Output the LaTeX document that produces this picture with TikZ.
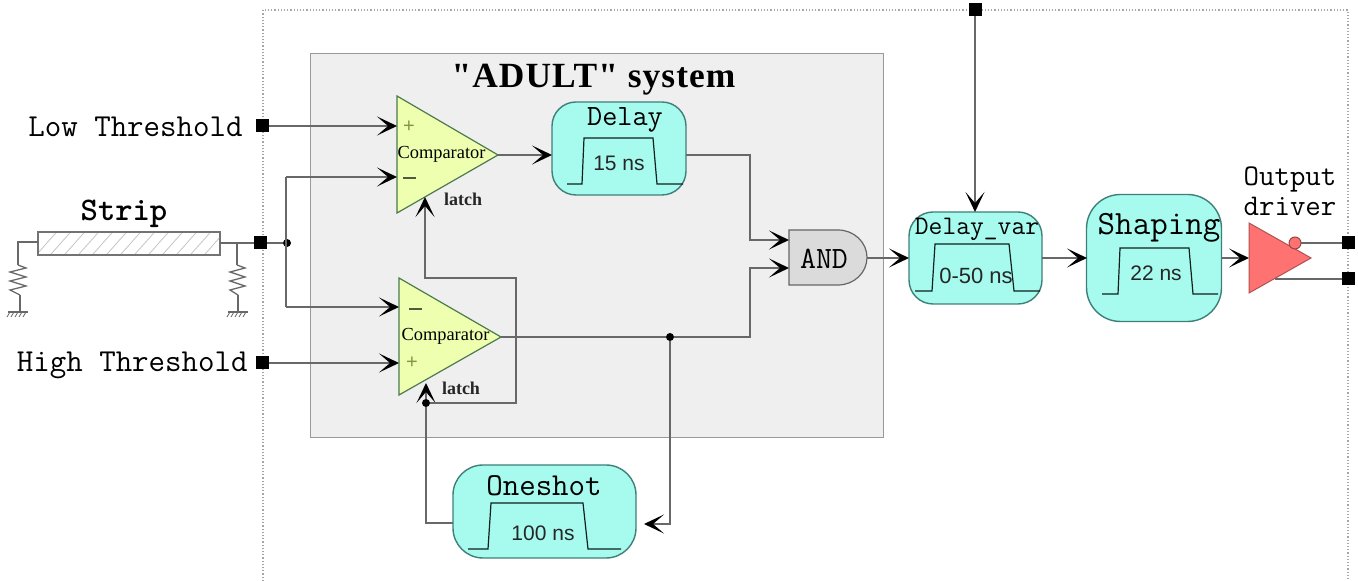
\documentclass[tikz,border=0pt]{standalone}
\usepackage{fontspec}
\setmainfont{Liberation Serif}
\setsansfont{Liberation Sans}
\newfontfamily\titlefont[LetterSpace=3]{Liberation Serif}
\usetikzlibrary{arrows.meta}
\definecolor{wire}{HTML}{686868}
\definecolor{cyanfill}{HTML}{A6FBEE}
\definecolor{cyanedge}{HTML}{3F7F78}
\definecolor{yellowfill}{HTML}{EEFFB0}
\definecolor{panel}{HTML}{EFEFEF}
\definecolor{redfill}{HTML}{FF7272}
\newcommand{\fsz}[1]{\fontsize{#1}{#1}\selectfont}
\tikzset{
  wireline/.style={draw=wire,line width=0.7pt},
  arrowline/.style={wireline,-{Stealth[length=10pt,width=9.5pt,inset=5.5pt,color=black]}},
  pin/.style={fill=black,minimum size=6.5pt,inner sep=0,outer sep=0},
  junction/.style={circle,fill=black,minimum size=4pt,inner sep=0,outer sep=0},
  blockbox/.style={draw=cyanedge,fill=cyanfill,line width=0.7pt,inner sep=0,outer sep=0},
  pulse/.style={draw=black!75!cyanedge,line width=0.6pt},
  monolabel/.style={font=\ttfamily,inner sep=0,text=black},
  pulselabel/.style={font=\sffamily\fsz{10.5},inner sep=0,text=black!85},
  complabel/.style={font=\rmfamily\fsz{9.2},inner sep=0},
  latchlabel/.style={font=\rmfamily\bfseries\fsz{9},inner sep=0,text=black!85},
  comparator/.style={draw=black!55!green!40!gray,fill=yellowfill,line width=0.6pt},
}
\begin{document}
\begin{tikzpicture}[x=0.5pt,y=-0.5pt]
\useasboundingbox (0,0) rectangle (1358,581);
% frame and panel
\coordinate (fbl) at (263,581);
\coordinate (ftl) at (263,10);
\coordinate (ftr) at (1348,10);
\coordinate (fbr) at (1348,581);
\draw[draw=gray!70,line width=0.6pt,densely dotted] (fbl) -- (ftl) -- (ftr) -- (fbr);
\node[fill=panel,draw=gray!80,line width=0.5pt,minimum width=286.5pt,minimum height=192pt,inner sep=0,outer sep=0] (panelbox) at (597,246) {};
\node[font=\titlefont\bfseries\fsz{17.7},inner sep=0] (title) at (593.5,80) {"ADULT" system};

% labels
\node[monolabel,font=\ttfamily\fsz{16},anchor=east] (lowlab) at (243,127) {Low Threshold};
\node[monolabel,font=\ttfamily\fsz{16},anchor=east] (highlab) at (248,365) {High Threshold};
\node[monolabel,font=\ttfamily\bfseries\fsz{16.5}] (striplab) at (124,214) {Strip};

% strip
\begin{scope}
\clip (38,232) rectangle (220,255);
\foreach \i in {0,14,...,210} \draw[gray!45,line width=0.4pt] (30+\i,262) -- (62+\i,226);
\end{scope}
\node[draw=gray!90!black,line width=0.8pt,minimum width=91pt,minimum height=11.5pt,inner sep=0,outer sep=0] (strip) at (129,243.5) {};
\coordinate (leftres) at (18,242);
\coordinate (rightres) at (237,243);
\node[pin] (pinin) at (260,243) {};
\node[junction] (split) at (287,243) {};
\coordinate (splittop) at (286,177);
\coordinate (splitbot) at (286,307);
\draw[wireline] (38,242) -- (leftres) -- (18,265);
\draw[wireline] (20,295) -- (20,312);
\draw[wireline,line width=0.65pt] (18,265) -- (26,268) -- (10,272) -- (26,277) -- (10,281) -- (26,286) -- (10,290) -- (20,295);
\draw[wireline,line width=0.7pt] (8,312) -- (28,312);
\foreach \x in {10,14,...,26} \draw[wire,line width=0.4pt] (\x,312) -- (\x-3,317);
\draw[wireline] (220,243) -- (pinin);
\draw[wireline] (rightres) -- (237,265);
\draw[wireline] (238,295) -- (238,312);
\draw[wireline,line width=0.65pt] (237,265) -- (245,268) -- (230,272) -- (245,277) -- (230,281) -- (245,286) -- (230,290) -- (238,295);
\draw[wireline,line width=0.7pt] (228,312) -- (248,312);
\foreach \x in {230,234,...,246} \draw[wire,line width=0.4pt] (\x,312) -- (\x-3,317);
\draw[wireline] (pinin) -- (split);
\draw[wireline] (splittop) -- (splitbot);

% comparators
\draw[comparator] (397,96) -- (498,155) -- (397,213) -- cycle;
\draw[comparator] (399,278) -- (501,337) -- (399,395) -- cycle;
\node[complabel] (c1lab) at (441.5,154) {Comparator};
\node[complabel] (c2lab) at (445.5,336) {Comparator};
\node[latchlabel] (l1lab) at (463,199) {latch};
\node[latchlabel] (l2lab) at (461,388) {latch};
\node[inner sep=0,text=olive!70!green!60!gray,font=\sffamily\fsz{10}] (p1) at (409,127) {+};
\node[inner sep=0,text=olive!70!green!60!gray,font=\sffamily\fsz{10}] (p2) at (412,363) {+};
\node[inner sep=0,fill=black!65!yellowfill,minimum width=6.5pt,minimum height=0.9pt] (m1) at (409,178) {};
\node[inner sep=0,fill=black!65!yellowfill,minimum width=6.5pt,minimum height=0.9pt] (m2) at (415,309) {};

% inputs
\node[pin] (pinlow) at (262,126) {};
\node[pin] (pinhigh) at (262,363) {};
\coordinate (c1plus) at (397,126);
\coordinate (c1minus) at (397,177);
\coordinate (c2minus) at (399,307);
\coordinate (c2plus) at (399,363);
\coordinate (c1out) at (498,155);
\coordinate (c2out) at (501,337);
\coordinate (c1latch) at (425,197);
\coordinate (c2latch) at (426,383);
\draw[arrowline] (pinlow) -- (c1plus);
\draw[arrowline] (splittop) -- (c1minus);
\draw[arrowline] (splitbot) -- (c2minus);
\draw[arrowline] (pinhigh) -- (c2plus);

% Delay
\node[blockbox,rounded corners=12pt,minimum width=67pt,minimum height=46.5pt] (delay) at (619,148.5) {};
\node[monolabel,font=\ttfamily\fsz{14.7}] (delaylab) at (625,120) {Delay};
\draw[pulse] (567,184) -- (582,184) -- (584,138) -- (653,138) -- (657,184) -- (683,184);
\node[pulselabel] (d15) at (619,163) {15 ns};
\coordinate (delayin) at (552,155);
\coordinate (delayout) at (686,155);
\draw[arrowline] (c1out) -- (delayin);

% AND
\path[draw=gray!80!black,fill=gray!28,line width=0.6pt] (789,230) -- (838,230) arc[start angle=90,end angle=-90,x radius=14.5pt,y radius=13.75pt] -- (789,285) -- cycle;
\node[monolabel,font=\ttfamily\fsz{15.5}] (andlab) at (824,259) {AND};
\coordinate (and1) at (789,240);
\coordinate (and2) at (789,268);
\coordinate (andout) at (867,258);
\coordinate (bend1a) at (750,155);
\coordinate (bend1b) at (750,240);
\coordinate (tapand) at (750,337);
\coordinate (bend2) at (750,268);
\node[junction] (tap) at (670,337) {};
\draw[arrowline] (delayout) -- (bend1a) -- (bend1b) -- (and1);
\draw[arrowline] (c2out) -- (tap) -- (tapand) -- (bend2) -- (and2);

% latch loop
\coordinate (loopa) at (516,403);
\coordinate (loopb) at (516,278);
\coordinate (loopc) at (425,278);
\node[junction] (latchdot) at (426,403) {};
\draw[arrowline] (latchdot) -- (c2latch);
\draw[arrowline] (latchdot) -- (loopa) -- (loopb) -- (loopc) -- (c1latch);

% Oneshot
\node[blockbox,rounded corners=15pt,minimum width=91.5pt,minimum height=46.5pt] (oneshot) at (544.5,511.5) {};
\node[monolabel,font=\ttfamily\fsz{16}] (onelab) at (544,486) {Oneshot};
\draw[pulse] (468,549) -- (488,549) -- (491,503) -- (583,503) -- (588,549) -- (621,549);
\node[pulselabel] (o100) at (543,533) {100 ns};
\coordinate (onein) at (644,524);
\coordinate (tapdown) at (670,524);
\coordinate (oneout) at (453,523);
\coordinate (oneleft) at (426,523);
\draw[arrowline] (tap) -- (tapdown) -- (onein);
\draw[wireline] (oneout) -- (oneleft) -- (latchdot);

% Delay_var
\node[blockbox,rounded corners=12pt,minimum width=66.5pt,minimum height=46pt] (dvar) at (975.5,258) {};
\node[monolabel,font=\ttfamily\fsz{13.4}] (dvarlab) at (977,229) {Delay\_var};
\draw[pulse] (915,291) -- (932,291) -- (935,244) -- (1009,244) -- (1014,291) -- (1040,291);
\node[pulselabel,font=\sffamily\fsz{11}] (dv50) at (976,276) {0-50 ns};
\coordinate (dvarin) at (909,258);
\coordinate (dvarout) at (1042,258);
\coordinate (dvartop) at (975,212);
\node[pin] (pintop) at (975,10) {};
\draw[arrowline] (pintop) -- (dvartop);
\draw[arrowline] (andout) -- (dvarin);

% Shaping
\node[blockbox,rounded corners=17pt,minimum width=67.5pt,minimum height=63.5pt] (shaping) at (1154,258) {};
\node[monolabel,font=\ttfamily\fsz{17}] (shapinglab) at (1159,228) {Shaping};
\draw[pulse] (1102,294) -- (1118,294) -- (1120,248) -- (1189,248) -- (1193,294) -- (1218,294);
\node[pulselabel] (s22) at (1156,273) {22 ns};
\coordinate (shapein) at (1087,258);
\coordinate (shapeout) at (1222,258);
\draw[arrowline] (dvarout) -- (shapein);

% Driver
\coordinate (drvin) at (1249,258);
\node[monolabel,font=\ttfamily\fsz{15}] (outlab1) at (1290,179) {Output};
\node[monolabel,font=\ttfamily\fsz{15}] (outlab2) at (1290,206) {driver};
\draw[arrowline] (shapeout) -- (drvin);
\node[pin] (outa) at (1348,243) {};
\node[pin] (outb) at (1348,279) {};
\coordinate (drva) at (1296,243);
\coordinate (drvb) at (1275,279);
\draw[wireline] (drva) -- (outa);
\draw[wireline] (drvb) -- (outb);
\draw[draw=redfill!70!black,fill=redfill,line width=0.5pt] (1249,223) -- (1311,258) -- (1249,293) -- cycle;
\node[circle,draw=redfill!60!black,fill=redfill,line width=0.5pt,minimum size=6pt,inner sep=0] (bubble) at (1295,243) {};
\end{tikzpicture}
\end{document}
